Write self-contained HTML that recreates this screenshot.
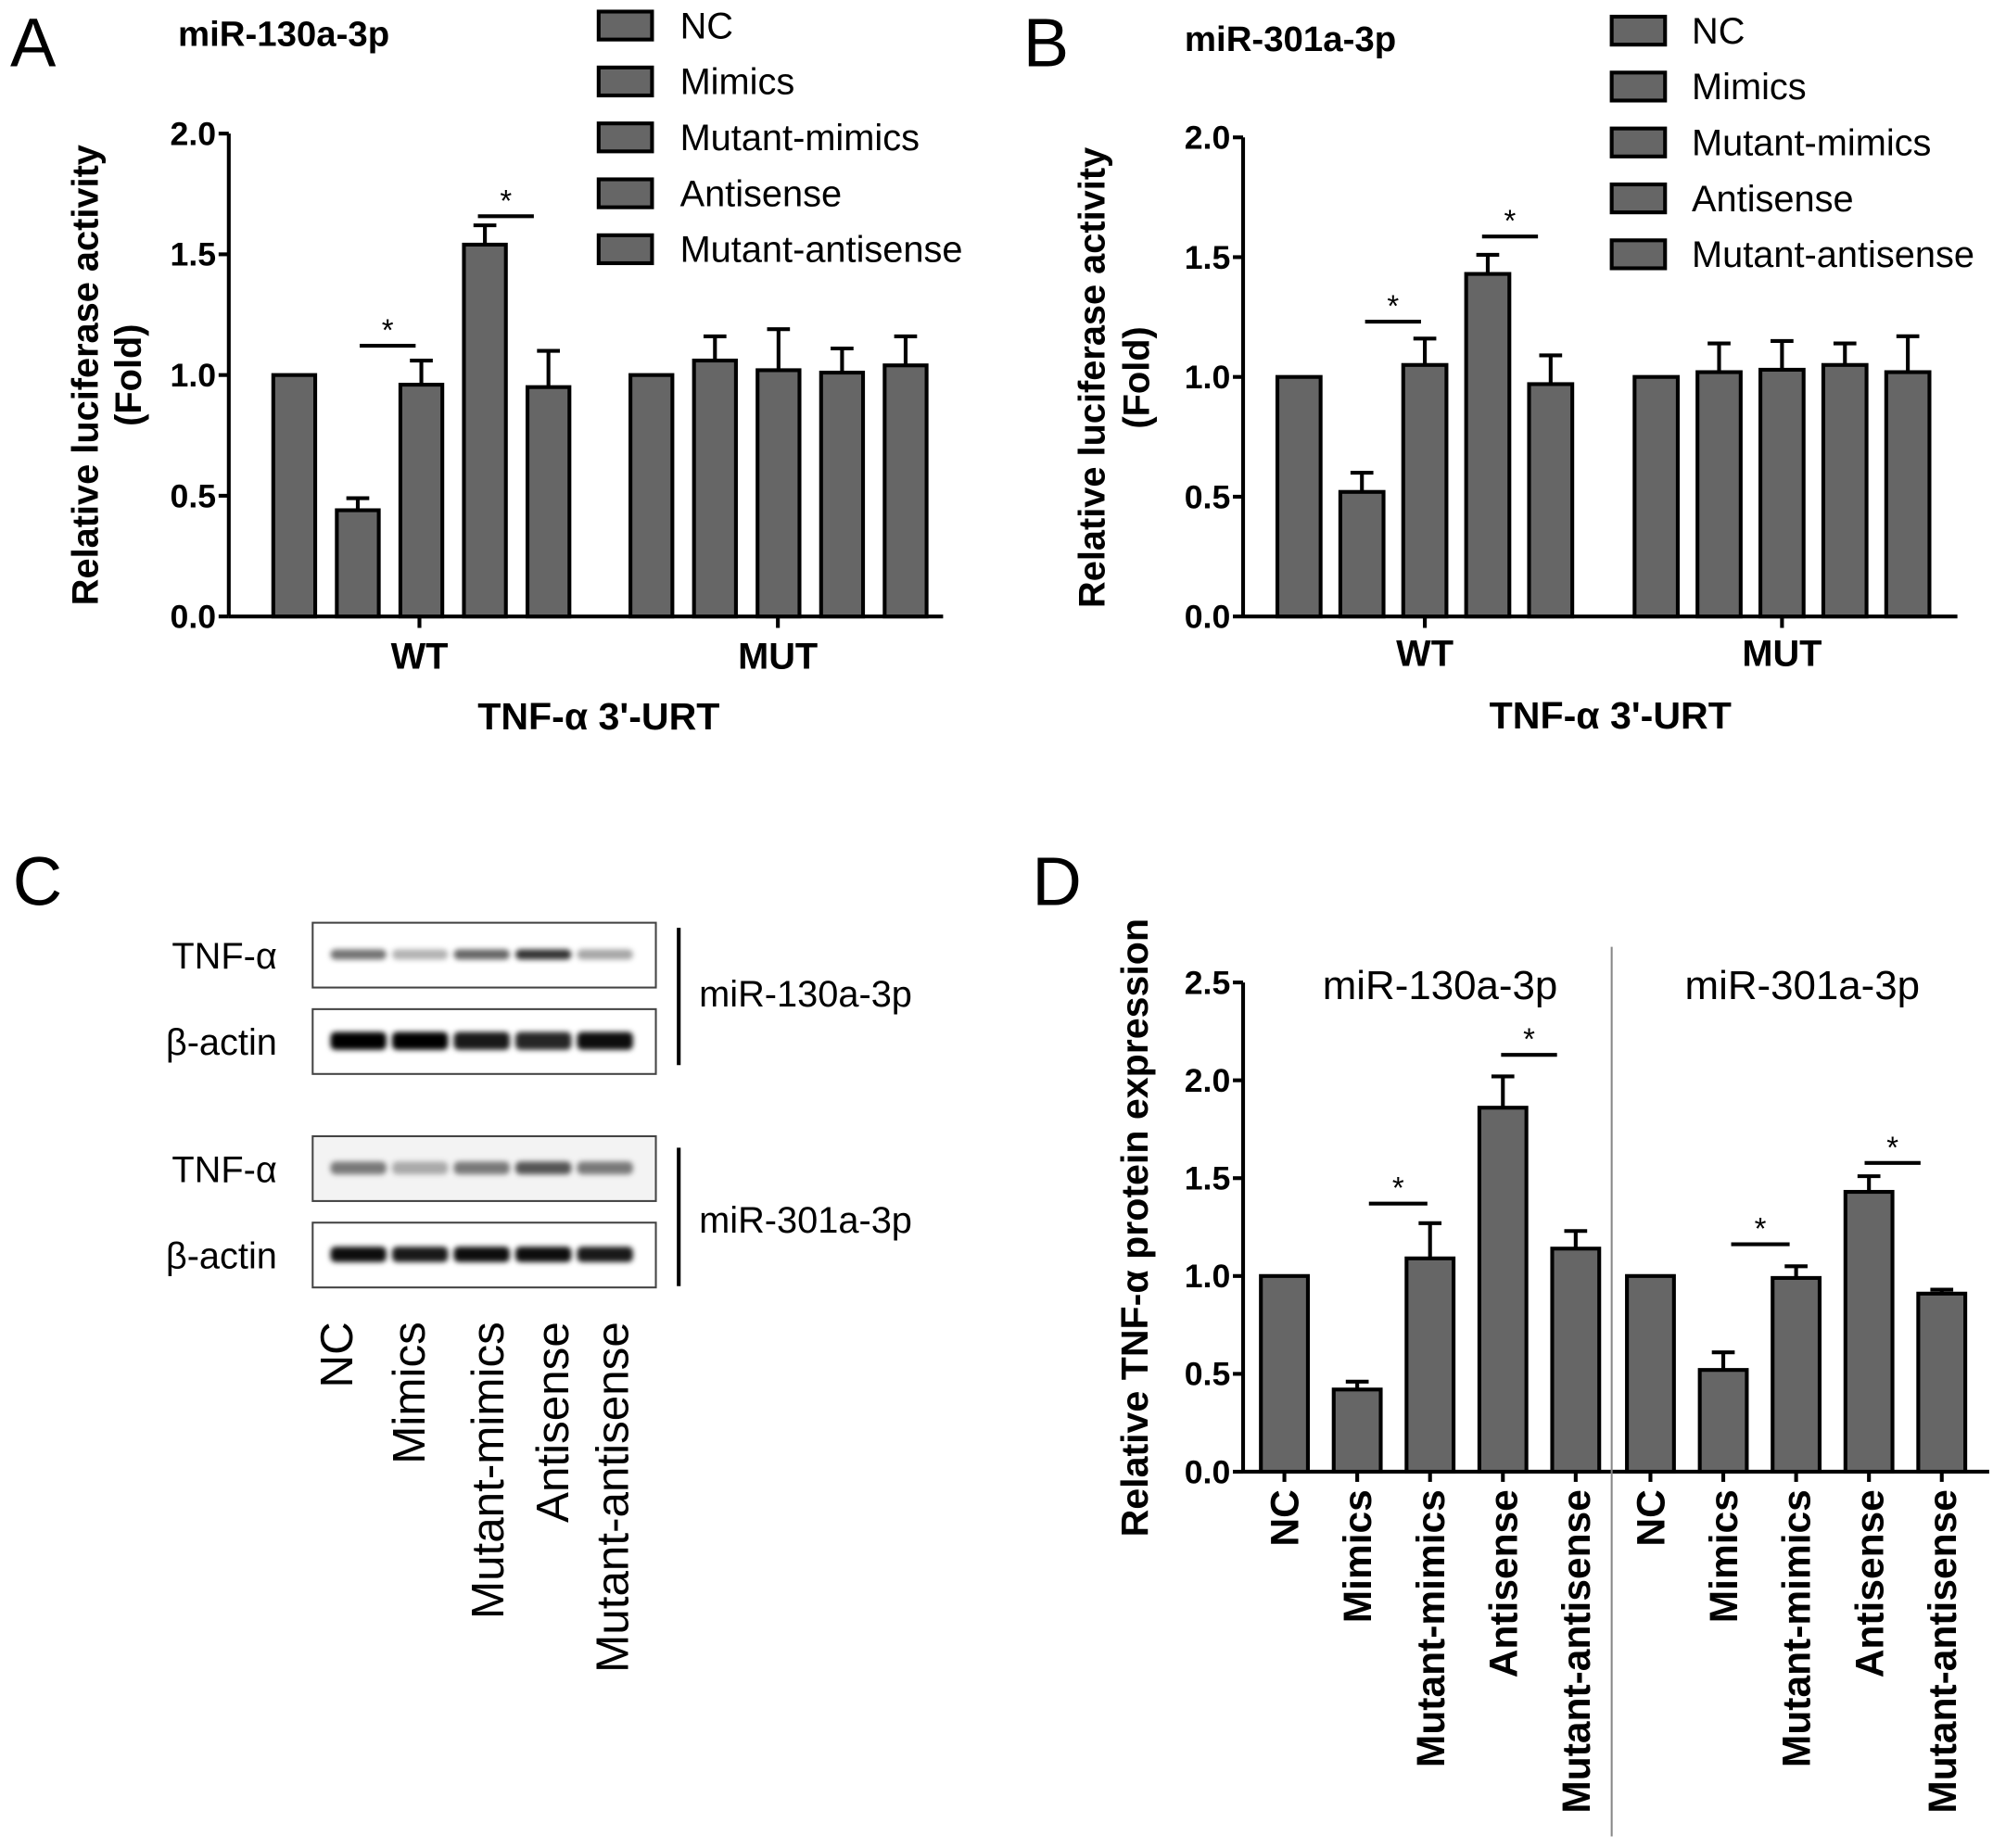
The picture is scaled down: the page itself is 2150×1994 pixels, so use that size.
<!DOCTYPE html>
<html><head><meta charset="utf-8"><style>
html,body{margin:0;padding:0;background:#fff}
svg{display:block}
text{font-family:"Liberation Sans",sans-serif}
</style></head><body>
<svg id="fig" width="2150" height="1994" viewBox="0 0 1568 1454" xmlns="http://www.w3.org/2000/svg">
<defs><filter id="blur" x="-20%" y="-50%" width="140%" height="200%"><feGaussianBlur stdDeviation="2.2"/></filter></defs>
<g id="gA"></g>
<g id="gB"></g>
<g id="gC"></g>
<g id="gD"></g>
</svg>
<script>
const groups=["NC","Mimics","Mutant-mimics","Antisense","Mutant-antisense"];
const aWT=[1.0,0.44,0.96,1.54,0.95];
const aWTerr=[0,0.05,0.10,0.08,0.15];
const aMUT=[1.0,1.06,1.02,1.01,1.04];
const aMUTerr=[0,0.10,0.17,0.10,0.12];
const bWT=[1.0,0.52,1.05,1.43,0.97];
const bWTerr=[0,0.08,0.11,0.08,0.12];
const bMUT=[1.0,1.02,1.03,1.05,1.02];
const bMUTerr=[0,0.12,0.12,0.09,0.15];
const d130=[1.0,0.42,1.09,1.86,1.14];
const d130err=[0,0.04,0.18,0.16,0.09];
const d301=[1.0,0.52,0.99,1.43,0.91];
const d301err=[0,0.09,0.06,0.08,0.02];
const ticksAB=["0.0","0.5","1.0","1.5","2.0"];
const ticksD=["0.0","0.5","1.0","1.5","2.0","2.5"];
const NS="http://www.w3.org/2000/svg";
function el(p,t,a,txt){const e=document.createElementNS(NS,t);for(const k in a)e.setAttribute(k,a[k]);if(txt!==undefined)e.textContent=txt;p.appendChild(e);return e;}
const FILL="#666";
const SW=3;

function barPanel(g,o){
  const y=v=>o.y0-v*o.ppu;
  let ax=el(g,"line",{x1:o.ax,y1:y(o.ymax),x2:o.ax,y2:o.y0,stroke:"#000","stroke-width":SW});
  
  let xa=el(g,"line",{x1:o.ax,y1:o.y0,x2:o.xend,y2:o.y0,stroke:"#000","stroke-width":SW});
  
  o.ticks.forEach(t=>{const v=parseFloat(t);
    el(g,"line",{x1:o.ax-8,y1:y(v),x2:o.ax,y2:y(v),stroke:"#000","stroke-width":SW});
    const tl=el(g,"text",{x:o.ax-10,y:y(v)+9,"text-anchor":"end","font-size":26,"font-weight":"bold"},t);
    
  });
  o.series.forEach(s=>{
    s.vals.forEach((v,i)=>{
      const x=s.start+i*o.step, cx=x+o.bw/2;
      if(s.err[i]>0){
        el(g,"line",{x1:cx,y1:y(v),x2:cx,y2:y(v+s.err[i]),stroke:"#000","stroke-width":SW});
        el(g,"line",{x1:cx-9,y1:y(v+s.err[i]),x2:cx+9,y2:y(v+s.err[i]),stroke:"#000","stroke-width":SW});
      }
      const r=el(g,"rect",{x:x,y:y(v),width:o.bw,height:v*o.ppu,fill:FILL,stroke:"#000","stroke-width":SW});
      
      
    });
  });
  o.sig.forEach(sg=>{
    el(g,"line",{x1:sg[0],y1:sg[2],x2:sg[1],y2:sg[2],stroke:"#000","stroke-width":SW});
    const st=el(g,"text",{x:(sg[0]+sg[1])/2,y:sg[2]-4,"text-anchor":"middle","font-size":24},"*");
    
  });
}
function legend(g,x,y0,tx){
  groups.forEach((n,i)=>{
    const y=y0+i*44;
    const r=el(g,"rect",{x:x,y:y-11,width:42,height:22,fill:FILL,stroke:"#000","stroke-width":SW});
    
    const t=el(g,"text",{x:tx,y:y+10,"font-size":29},n);
    
  });
}
function txt(g,name,a,s){const t=el(g,"text",a,s);return t;}

// Panel A
const gA=document.getElementById("gA");
txt(gA,"panel-label-a",{x:8,y:52,"font-size":54},"A");
txt(gA,"panel-a-title",{x:140,y:36,"font-size":28,"font-weight":"bold"},"miR-130a-3p");
legend(gA,471,20,535);
barPanel(gA,{ax:180,y0:485,ppu:190,ymax:2.0,xend:742,ticks:ticksAB,bw:33,step:50,
  series:[{name:"wt",vals:aWT,err:aWTerr,start:215},{name:"mut",vals:aMUT,err:aMUTerr,start:496}],
  sig:[[283,327,272],[376,420,170]]});
[330,612].forEach(x=>el(gA,"line",{x1:x,y1:485,x2:x,y2:494,stroke:"#000","stroke-width":SW}));
txt(gA,"x-label-wt",{x:330,y:526,"text-anchor":"middle","font-size":29,"font-weight":"bold"},"WT");
txt(gA,"x-label-mut",{x:612,y:526,"text-anchor":"middle","font-size":29,"font-weight":"bold"},"MUT");
txt(gA,"x-axis-title",{x:471,y:574,"text-anchor":"middle","font-size":30,"font-weight":"bold"},"TNF-α 3'-URT");
txt(gA,"y-axis-title",{transform:"translate(77,295) rotate(-90)","text-anchor":"middle","font-size":29,"font-weight":"bold"},"Relative luciferase activity");
txt(gA,"y-axis-title-unit",{transform:"translate(111,295) rotate(-90)","text-anchor":"middle","font-size":29,"font-weight":"bold"},"(Fold)");

// Panel B
const gB=document.getElementById("gB");
txt(gB,"panel-label-b",{x:805,y:52,"font-size":54},"B");
txt(gB,"panel-b-title",{x:932,y:40,"font-size":28,"font-weight":"bold"},"miR-301a-3p");
legend(gB,1268,24,1331);
barPanel(gB,{ax:978,y0:485,ppu:188.5,ymax:2.0,xend:1540,ticks:ticksAB,bw:34,step:49.5,
  series:[{name:"wt",vals:bWT,err:bWTerr,start:1005},{name:"mut",vals:bMUT,err:bMUTerr,start:1286}],
  sig:[[1074,1118,253],[1166,1210,186]]});
[1121,1402].forEach(x=>el(gB,"line",{x1:x,y1:485,x2:x,y2:494,stroke:"#000","stroke-width":SW}));
txt(gB,"x-label-wt",{x:1121,y:524,"text-anchor":"middle","font-size":29,"font-weight":"bold"},"WT");
txt(gB,"x-label-mut",{x:1402,y:524,"text-anchor":"middle","font-size":29,"font-weight":"bold"},"MUT");
txt(gB,"x-axis-title",{x:1267,y:573,"text-anchor":"middle","font-size":30,"font-weight":"bold"},"TNF-α 3'-URT");
txt(gB,"y-axis-title",{transform:"translate(869,297) rotate(-90)","text-anchor":"middle","font-size":29,"font-weight":"bold"},"Relative luciferase activity");
txt(gB,"y-axis-title-unit",{transform:"translate(904,297) rotate(-90)","text-anchor":"middle","font-size":29,"font-weight":"bold"},"(Fold)");

// Panel C
const gC=document.getElementById("gC");
txt(gC,"panel-label-c",{x:10,y:712,"font-size":54},"C");
const blots=[{y:726,lab:"TNF-α",int:[0.55,0.3,0.6,0.8,0.35],h:8,bg:"#fff"},
             {y:794,lab:"β-actin",int:[1,1,0.9,0.85,0.95],h:14,bg:"#fff"},
             {y:894,lab:"TNF-α",int:[0.5,0.3,0.5,0.65,0.5],h:10,bg:"#f3f3f3"},
             {y:962,lab:"β-actin",int:[0.95,0.9,0.95,0.95,0.9],h:12,bg:"#fff"}];
blots.forEach((b,j)=>{
  const r=el(gC,"rect",{x:246,y:b.y,width:270,height:51,fill:b.bg,stroke:"#444","stroke-width":1.5});
  
  txt(gC,"blot-row-label",{x:218,y:b.y+36,"text-anchor":"end","font-size":29},b.lab);
  b.int.forEach((v,i)=>{
    const cx=282+i*48.5;
    const band=el(gC,"rect",{x:cx-22,y:b.y+25-b.h/2,width:44,height:b.h,rx:4,fill:"#000","fill-opacity":v,filter:"url(#blur)"});
    
  });
});
el(gC,"line",{x1:534,y1:730,x2:534,y2:838,stroke:"#000","stroke-width":3});
el(gC,"line",{x1:534,y1:903,x2:534,y2:1012,stroke:"#000","stroke-width":3});
txt(gC,"blot-group-label",{x:550,y:792,"font-size":29},"miR-130a-3p");
txt(gC,"blot-group-label",{x:550,y:970,"font-size":29},"miR-301a-3p");
[265,322,384,435,482].forEach((x,i)=>{
  txt(gC,"lane-label",{transform:"translate("+(x+12)+",1040) rotate(-90)","text-anchor":"end","font-size":36},groups[i]);
});

// Panel D
const gD=document.getElementById("gD");
txt(gD,"panel-label-d",{x:812,y:712,"font-size":54},"D");
barPanel(gD,{ax:978,y0:1158,ppu:154,ymax:2.5,xend:1565,ticks:ticksD,bw:37,step:57.3,
  series:[{name:"mir130",vals:d130,err:d130err,start:992},{name:"mir301",vals:d301,err:d301err,start:1280}],
  sig:[[1077,1123,947],[1181,1225,830],[1362,1408,979],[1467,1511,915]]});
el(gD,"line",{x1:1268,y1:745,x2:1268,y2:1445,stroke:"#888","stroke-width":1.5});
txt(gD,"group-title",{x:1133,y:786,"text-anchor":"middle","font-size":32},"miR-130a-3p");
txt(gD,"group-title",{x:1418,y:786,"text-anchor":"middle","font-size":32},"miR-301a-3p");
txt(gD,"y-axis-title",{transform:"translate(903,966) rotate(-90)","text-anchor":"middle","font-size":30,"font-weight":"bold"},"Relative TNF-α  protein expression");
[992,1280].forEach(s=>groups.forEach((n,i)=>{
  const cx=s+i*57.3+18.5;
  el(gD,"line",{x1:cx,y1:1158,x2:cx,y2:1166,stroke:"#000","stroke-width":SW});
  txt(gD,"x-tick-label",{transform:"translate("+(cx+11)+",1172) rotate(-90)","text-anchor":"end","font-size":31,"font-weight":"bold"},n);
}));
</script>
</body></html>
